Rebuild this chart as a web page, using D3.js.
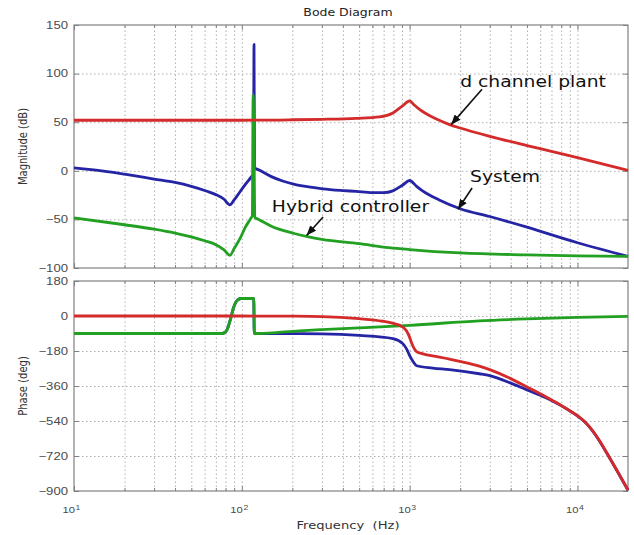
<!DOCTYPE html>
<meta charset="utf-8">
<style>

body {
  margin: 0;
  background: #fff;
}

svg {
  display: block;
  font-family: "DejaVu Sans", sans-serif;
}

.grid line {
  stroke: #b0b0b0;
  stroke-dasharray: 1.5,2.5;
}

.grid path {
  display: none;
}

.ticks path {
  display: none;
}

.ticks line {
  stroke: #808080;
}

.ticks text {
  fill: #4a4a4a;
  font-size: 10.5px;
}

.frame {
  fill: none;
  stroke: #808080;
  stroke-width: 1.2;
}

.curve {
  fill: none;
  stroke-width: 2.8;
  stroke-linejoin: round;
}

.note {
  font-size: 15px;
  fill: #111;
}

.arrow {
  stroke: #111;
  stroke-width: 1.6;
}

</style>
<svg width="634" height="535"></svg>

<script src="https://d3js.org/d3.v7.min.js"></script>
<script>

  // [frequency in Hz, value]
  var plantMag = [
    [10, 52], [30, 52], [100, 52], [200, 52.5], [300, 53], [480, 54], [662, 55.5], [795, 59.5],
    [910, 67], [1000, 72], [1060, 68], [1194, 61], [1310, 57], [1500, 52], [1730, 47.5],
    [2000, 44], [3000, 35.5], [5000, 26], [7000, 20], [10000, 13.5], [20000, 0.5]
  ];

  var systemMag = [
    [10, 3], [15, -0.3], [20, -3.5], [30, -8.5], [40, -12], [50, -16], [62, -21], [70, -24.5],
    [78, -29], [85, -35], [90, -30], [98, -21], [105, -14], [113, -7], [117.4, -3],
    [118.2, 130], [119, 3], [126, 1], [150, -6], [175, -10.5], [206, -14], [250, -16.5],
    [303, -18.5], [400, -20.3], [480, -21.2], [600, -22.5], [700, -22.5], [795, -20.6],
    [910, -14.6], [1000, -10], [1100, -16], [1200, -21], [1500, -30], [2000, -39],
    [3000, -47], [5000, -58], [10000, -74], [20000, -88]
  ];

  var controllerMag = [
    [10, -48.5], [20, -55.5], [30, -60], [40, -64], [50, -68], [60, -72], [70, -76],
    [78, -81], [85, -87], [90, -80], [98, -69], [105, -58], [113, -49], [115.5, -46],
    [116.8, 78], [118.4, 10], [119.5, -48], [126, -50], [150, -57], [200, -64], [250, -68],
    [300, -70.5], [500, -75], [750, -79], [1000, -81], [2000, -84.5], [5000, -86.5],
    [10000, -87.5], [20000, -88]
  ];

  var plantPhase = [
    [10, 0], [100, 0], [200, -1], [300, -3], [500, -14], [690, -27], [800, -38], [871, -48],
    [955, -75], [1000, -110], [1030, -141], [1100, -183], [1200, -195], [1370, -205],
    [1730, -222], [2600, -258], [3000, -276], [4000, -322], [5000, -365], [6000, -400],
    [7000, -432], [8000, -460], [9000, -487], [10000, -513], [11000, -542], [12000, -578],
    [13500, -640], [15000, -706], [17000, -787], [20000, -895]
  ];

  var systemPhase = [
    [10, -90], [76, -90], [80, -82], [83, -55], [86, -10], [89, 40], [92, 70], [95, 84],
    [99, 90], [117.8, 90], [118.6, -90], [125, -91], [221, -91], [300, -92], [500, -100],
    [795, -116], [910, -142], [960, -170], [1000, -204], [1050, -235], [1100, -256],
    [1370, -268], [1730, -276], [2600, -297], [3000, -307], [4000, -345], [5000, -380],
    [6000, -408], [7000, -434], [8000, -461], [9000, -488], [10000, -514], [11000, -543],
    [12000, -579], [13500, -641], [15000, -707], [17000, -788], [20000, -896]
  ];

  var controllerPhase = [
    [10, -90], [76, -90], [80, -82], [83, -55], [86, -10], [89, 40], [92, 70], [95, 84],
    [99, 90], [117.8, 90], [118.6, -90], [125, -90], [221, -76], [300, -70], [500, -61],
    [1000, -48], [2600, -25], [5000, -15], [10000, -7], [20000, -2]
  ];

  var magTicks = [-100, -50, 0, 50, 100, 150];
  var phaseTicks = [-900, -720, -540, -360, -180, 0, 180];
  var decades = [10, 100, 1000, 10000];

  var colors = {plant: "#d42a2a", system: "#2424a4", controller: "#22a022"};

  // label placed at "at", arrow from "from" to "to" (magnitude panel, Hz / dB)
  var notes = [
    {text: "d channel plant", at: [2000, 86], from: [2700, 84], to: [1766, 47.5]},
    {text: "System", at: [2290, -11.5], from: [2355, -17.7], to: [1940, -39.5]},
    {text: "Hybrid controller", at: [151, -42.4], from: [305, -47.5], to: [243, -66.5]}
  ];

  var SX = 1.25; // the picture's text is wider than it is tall

  var minors = [];
  decades.forEach(function(d) {
    d3.range(2, 10).forEach(function(k) { if (k * d < 20000) minors.push(k * d); });
  });

  var svg = d3.select("svg");

  var x = d3.scaleLog()
      .domain([10, 20000])
      .range([74, 628]);

  var yMag = d3.scaleLinear()
      .domain([-100, 150])
      .range([268, 25]);

  var yPhase = d3.scaleLinear()
      .domain([-900, 180])
      .range([491, 281]);

  svg.append("defs").append("marker")
      .attr("id", "head")
      .attr("markerUnits", "userSpaceOnUse")
      .attr("viewBox", "0 0 10 8")
      .attr("markerWidth", 10)
      .attr("markerHeight", 8)
      .attr("refX", 10)
      .attr("refY", 4)
      .attr("orient", "auto")
    .append("path")
      .attr("d", "M0,0L10,4L0,8Z")
      .attr("fill", "#111");

function stretch(sel, s) {
  sel.each(function() {
    var t = d3.select(this),
        tx = +t.attr("x") || 0,
        ty = +t.attr("y") || 0;
    t.attr("x", null).attr("y", null)
        .attr("transform", "translate(" + tx + "," + ty + ") scale(" + s + ",1)");
  });
}

function panel(y, yTicks, xLabels) {
  var bottom = y.range()[0],
      top = y.range()[1],
      left = x.range()[0],
      right = x.range()[1],
      g = svg.append("g");

  g.append("g")
      .attr("class", "grid")
      .attr("transform", "translate(0," + bottom + ")")
      .call(d3.axisBottom(x)
          .tickValues(decades.slice(1).concat(minors))
          .tickSize(-(bottom - top))
          .tickFormat(""));

  g.append("g")
      .attr("class", "grid")
      .attr("transform", "translate(" + left + ",0)")
      .call(d3.axisLeft(y)
          .tickValues(yTicks.slice(1, -1))
          .tickSize(-(right - left))
          .tickFormat(""));

  g.append("rect")
      .attr("class", "frame")
      .attr("x", left)
      .attr("y", top)
      .attr("width", right - left)
      .attr("height", bottom - top);

  [["bottom", bottom, d3.axisBottom], ["top", top, d3.axisTop]].forEach(function(s) {
    g.append("g")
        .attr("class", "ticks")
        .attr("transform", "translate(0," + s[1] + ")")
        .call(s[2](x).tickValues(minors).tickSize(-3).tickFormat(""));
    g.append("g")
        .attr("class", "ticks")
        .attr("transform", "translate(0," + s[1] + ")")
        .call(s[2](x).tickValues(decades).tickSize(-5).tickFormat(""));
  });

  var yl = g.append("g")
      .attr("class", "ticks")
      .attr("transform", "translate(" + left + ",0)")
      .call(d3.axisLeft(y).tickValues(yTicks).tickSizeInner(-5).tickSizeOuter(0).tickPadding(6));
  stretch(yl.selectAll("text"), SX);

  g.append("g")
      .attr("class", "ticks")
      .attr("transform", "translate(" + right + ",0)")
      .call(d3.axisRight(y).tickValues(yTicks).tickSize(-5).tickFormat(""));

  if (xLabels) {
    var xl = g.append("g")
        .attr("class", "ticks")
        .attr("transform", "translate(0," + bottom + ")")
        .call(d3.axisBottom(x).tickValues(decades).tickSize(0).tickPadding(16).tickFormat(""));
    xl.selectAll("text")
        .style("font-size", "9px")
        .each(function(d) {
          var t = d3.select(this);
          t.append("tspan").text("10");
          t.append("tspan")
              .attr("dy", "-0.55em")
              .attr("dx", "0.5")
              .style("font-size", "7px")
              .text(Math.round(Math.log10(d)));
        })
        .attr("x", -3);
    stretch(xl.selectAll("text"), SX);
  }
  return g;
}

function curves(g, y, series) {
  var line = d3.line()
      .x(function(d) { return x(d[0]); })
      .y(function(d) { return y(d[1]); })
      .curve(d3.curveMonotoneX);

  g.selectAll(".curve")
    .data(series)
    .enter().append("path")
      .attr("class", "curve")
      .attr("stroke", function(d) { return d.color; })
      .attr("d", function(d) { return line(d.values); });
}

  var gMag = panel(yMag, magTicks, false),
      gPhase = panel(yPhase, phaseTicks, true);

  curves(gMag, yMag, [
    {color: colors.system, values: systemMag},
    {color: colors.controller, values: controllerMag},
    {color: colors.plant, values: plantMag}
  ]);

  curves(gPhase, yPhase, [
    {color: colors.system, values: systemPhase},
    {color: colors.controller, values: controllerPhase},
    {color: colors.plant, values: plantPhase}
  ]);

  notes.forEach(function(n) {
    gMag.append("line")
        .attr("class", "arrow")
        .attr("x1", x(n.from[0]))
        .attr("y1", yMag(n.from[1]))
        .attr("x2", x(n.to[0]))
        .attr("y2", yMag(n.to[1]))
        .attr("marker-end", "url(#head)");
    gMag.append("text")
        .attr("class", "note")
        .attr("transform", "translate(" + x(n.at[0]) + "," + yMag(n.at[1]) + ") scale(" + SX + ",1)")
        .text(n.text);
  });

  svg.append("text")
      .attr("transform", "translate(348,16) scale(" + SX + ",1)")
      .attr("text-anchor", "middle")
      .style("font-size", "10px")
      .style("fill", "#222")
      .text("Bode Diagram");

  svg.append("text")
      .attr("transform", "translate(348,529) scale(" + SX + ",1)")
      .attr("text-anchor", "middle")
      .style("font-size", "10.5px")
      .style("fill", "#333")
      .text("Frequency\u00a0 (Hz)");

  svg.append("text")
      .attr("transform", "translate(27," + yMag(25) + ") scale(1.15,1) rotate(-90)")
      .attr("text-anchor", "middle")
      .style("font-size", "10px")
      .style("fill", "#333")
      .text("Magnitude (dB)");

  svg.append("text")
      .attr("transform", "translate(27," + yPhase(-360) + ") scale(1.15,1) rotate(-90)")
      .attr("text-anchor", "middle")
      .style("font-size", "10px")
      .style("fill", "#333")
      .text("Phase (deg)");

</script>
